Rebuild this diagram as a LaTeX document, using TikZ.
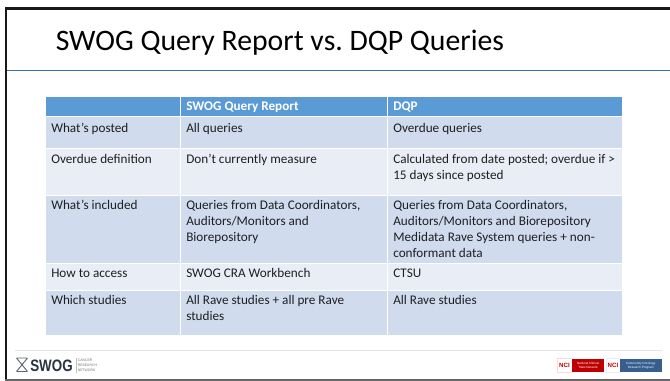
\documentclass[tikz,border=0pt]{standalone}
\usepackage{fontspec}
\setmainfont{Carlito}
\newfontfamily\logofont{Liberation Sans}
\frenchspacing
\definecolor{hdr}{HTML}{5B9BD5}
\definecolor{rowa}{HTML}{D0DBEE}
\definecolor{rowb}{HTML}{E9EDF6}
\definecolor{rulec}{HTML}{3F6FA8}
\definecolor{footc}{HTML}{E4E4E4}
\definecolor{logotext}{HTML}{2A3342}
\tikzset{x=0.75pt,y=-0.75pt,
 cell/.style={anchor=north west,inner sep=0,align=left,font=\fontsize{9.9pt}{12.0pt}\selectfont,text=black!88},
 headcell/.style={anchor=north west,inner sep=0,font=\fontsize{9.9pt}{12pt}\selectfont\bfseries,text=white}}
\newcommand{\rowfill}[3]{%
 \fill[#1] (46,#2) rectangle (180,#3);
 \fill[#1] (181,#2) rectangle (387,#3);
 \fill[#1] (388,#2) rectangle (622,#3);}
\begin{document}
\begin{tikzpicture}
\useasboundingbox (0,0) rectangle (670,381);
\fill[white] (0,0) rectangle (670,381);
% slide frame
\fill[black!90] (4.7,7.3) rectangle (670,10);
\fill[black!90] (4.7,7.3) rectangle (7,380);
\fill[black!60] (4.7,379) rectangle (670,380.5);
\node[anchor=west,inner sep=0,font=\fontsize{22.3pt}{24pt}\selectfont] (title) at (55.5,43) {SWOG Query Report vs. DQP Queries};
\fill[rulec] (7,69.7) rectangle (670,71);
% table
\rowfill{hdr}{97}{116}
\rowfill{rowa}{117.5}{148}
\rowfill{rowb}{149}{195}
\rowfill{rowa}{196}{262.5}
\rowfill{rowb}{263.5}{290}
\rowfill{rowa}{290.5}{335}
\node[headcell] (h1) at (186,102) {SWOG Query Report};
\node[headcell] (h2) at (393,102) {DQP};
\node[cell] (a1) at (51,123) {What’s posted};
\node[cell] (b1) at (186,123) {All queries};
\node[cell] (c1) at (393,123) {Overdue queries};
\node[cell] (a2) at (51,154) {Overdue definition};
\node[cell] (b2) at (186,154) {Don’t currently measure};
\node[cell] (c2) at (393,154) {Calculated from date posted; overdue if >\\15 days since posted};
\node[cell] (a3) at (51,200) {What’s included};
\node[cell] (b3) at (186,200) {Queries from Data Coordinators,\\Auditors/Monitors and\\Biorepository};
\node[cell] (c3) at (393,200) {Queries from Data Coordinators,\\Auditors/Monitors and Biorepository\\Medidata Rave System queries + non-\\conformant data};
\node[cell] (a4) at (51,268.5) {How to access};
\node[cell] (b4) at (186,268.5) {SWOG CRA Workbench};
\node[cell] (c4) at (393,268.5) {CTSU};
\node[cell] (a5) at (51,295) {Which studies};
\node[cell] (b5) at (186,295) {All Rave studies + all pre Rave\\studies};
\node[cell] (c5) at (393,295) {All Rave studies};
% footer
\fill[footc] (15,350) rectangle (662,351);
\draw[logotext!75,line width=0.7pt] (16.5,358) -- (27.5,371.5) (27.5,358) -- (16.5,371.5) (17,358) -- (27,358) (17,371.5) -- (27,371.5);
\node[anchor=west,inner sep=0,font=\logofont\fontsize{12.4pt}{13pt}\selectfont\bfseries,text=logotext] (swog) at (30,365.5) {\scalebox{0.81}[1]{SWOG}};
\fill[black!25] (75.5,358) rectangle (76,373);
\node[anchor=west,inner sep=0,align=left,font=\logofont\fontsize{2.6pt}{3.8pt}\selectfont,text=black!55] (crn) at (77.5,365.5) {CANCER\\RESEARCH\\NETWORK};
\fill[white,draw=red!15] (557,358.7) rectangle (572,372);
\fill[red!75!black] (572,358.7) rectangle (604,372);
\node[inner sep=0,font=\logofont\fontsize{4.6pt}{5pt}\selectfont\bfseries,text=red!75!black] (nci1) at (564.5,365.5) {NCI};
\node[inner sep=0,align=center,font=\logofont\fontsize{2.3pt}{3pt}\selectfont,text=white] (nt1) at (588,365.5) {National Clinical\\Trials Network};
\fill[white,draw=blue!8] (606,358.7) rectangle (620,372);
\fill[rulec!85!black] (620,358.7) rectangle (661.5,372);
\node[inner sep=0,font=\logofont\fontsize{4.6pt}{5pt}\selectfont\bfseries,text=red!75!black] (nci2) at (613,365.5) {NCI};
\node[inner sep=0,align=center,font=\logofont\fontsize{2.3pt}{3pt}\selectfont,text=white] (nt2) at (640.7,365.5) {Community Oncology\\Research Program};
\end{tikzpicture}
\end{document}
